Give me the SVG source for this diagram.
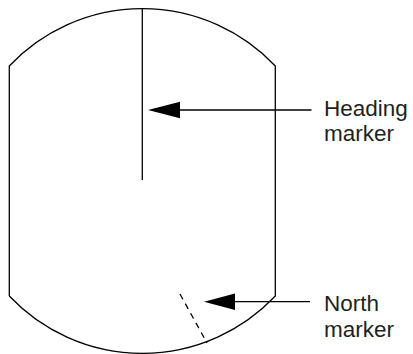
<svg xmlns="http://www.w3.org/2000/svg" width="413" height="354" viewBox="0 0 413 354">
<style>
.ln{fill:none;stroke:#000;stroke-width:1.3}
.lb{font-family:"Liberation Sans",Arial,sans-serif;font-size:22.5px;fill:#231f20}
</style>
<rect width="413" height="354" fill="#fff"/>
<g id="display">
<path class="ln" d="M9.3,296 L9.3,66 A183,183 0 0 1 275.3,66 L275.3,296 A183,183 0 0 1 9.3,296"/>
</g>
<g id="heading-marker">
<line class="ln" x1="142.3" y1="9" x2="142.3" y2="180"/>
</g>
<g id="north-marker">
<line class="ln" x1="180" y1="294" x2="207" y2="343" stroke-dasharray="6,5"/>
</g>
<g id="connectors">
<line class="ln" x1="311.5" y1="110" x2="170" y2="110"/>
<polygon points="148,110 180,101.7 180,118.3" fill="#000"/>
<line class="ln" x1="310" y1="301.7" x2="225" y2="301.7"/>
<polygon points="204,301.7 235,293.4 235,310" fill="#000"/>
</g>
<g id="label-heading">
<text class="lb" x="324" y="116">Heading</text>
<text class="lb" x="324" y="141">marker</text>
</g>
<g id="label-north">
<text class="lb" x="324" y="311">North</text>
<text class="lb" x="324" y="337">marker</text>
</g>
</svg>
